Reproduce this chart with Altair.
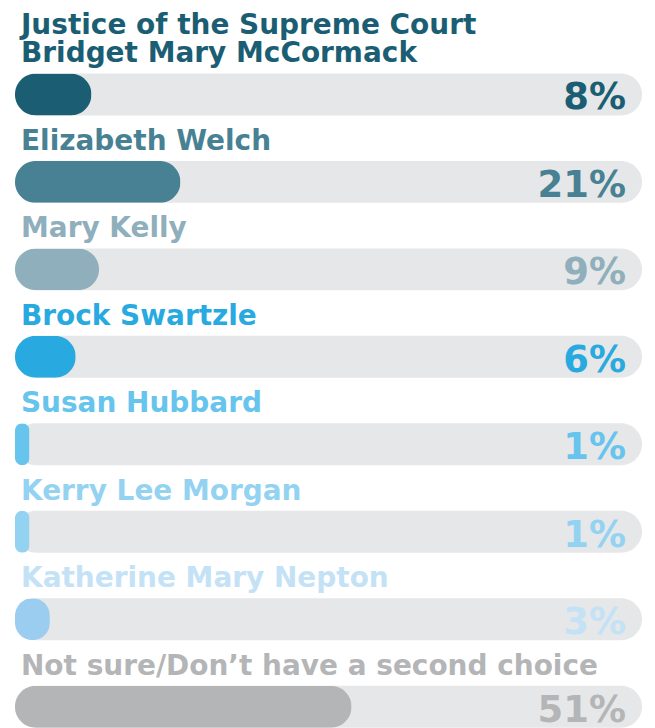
import altair as alt
import pandas as pd

candidates = [
    "Bridget Mary McCormack",
    "Elizabeth Welch",
    "Mary Kelly",
    "Brock Swartzle",
    "Susan Hubbard",
    "Kerry Lee Morgan",
    "Katherine Mary Nepton",
    "Not sure/Don\u2019t have a second choice",
]
headings = ["Justice of the Supreme Court", "", "", "", "", "", "", ""]
values = [8, 21, 9, 6, 1, 1, 3, 51]
fill_colors = ["#1b5e74", "#478193", "#8eafbb", "#28aae1", "#66c4ed", "#93d3f1", "#9bcdf0", "#b4b5b7"]
text_colors = ["#1b5e74", "#478193", "#8eafbb", "#28aae1", "#66c4ed", "#93d3f1", "#c4e2f6", "#b4b5b7"]

TRACK_MAX = 111
FONT = "DejaVu Sans"

df = pd.DataFrame({
    "candidate": candidates,
    "heading": headings,
    "value": values,
    "pct": [f"{v}%" for v in values],
    "fill": fill_colors,
    "tcolor": text_colors,
})

y = alt.Y("candidate:N", sort=candidates, axis=None,
          scale=alt.Scale(range=[65, 720.2], paddingInner=0.5205, paddingOuter=0))
xscale = alt.Scale(type="pow", exponent=0.8, domain=[0, TRACK_MAX], range=[7, 635], nice=False)

base = alt.Chart(df)

track = base.mark_bar(cornerRadius=21, color="#e6e7e8").encode(
    x=alt.datum(0, scale=xscale, axis=None),
    x2=alt.datum(TRACK_MAX),
    y=y,
)

bars = base.mark_bar(cornerRadius=21).encode(
    x=alt.X("value:Q", scale=xscale, axis=None),
    y=y,
    color=alt.Color("fill:N", scale=None),
)

label_style = dict(align="left", baseline="alphabetic", font=FONT, fontSize=28,
                   fontWeight="bold", dx=6)

labels = base.mark_text(dy=-32, **label_style).encode(
    x=alt.datum(0),
    y=y,
    text="candidate:N",
    color=alt.Color("tcolor:N", scale=None),
)

heads = base.mark_text(dy=-61, **label_style).encode(
    x=alt.datum(0),
    y=y,
    text="heading:N",
    color=alt.Color("tcolor:N", scale=None),
).transform_filter("datum.heading != ''")

pcts = base.mark_text(
    align="right", baseline="alphabetic", font=FONT, fontSize=37, fontWeight="bold",
    dx=-16, dy=15,
).encode(
    x=alt.datum(TRACK_MAX),
    y=y,
    text="pct:N",
    color=alt.Color("tcolor:N", scale=None),
)

chart = alt.layer(track, bars, heads, labels, pcts).properties(
    width=640, height=720, padding=0, autosize=alt.AutoSizeParams(type="none"),
    background="white",
).configure_view(stroke=None)

chart.save("out.html", embed_options={"renderer": "svg", "actions": False})
